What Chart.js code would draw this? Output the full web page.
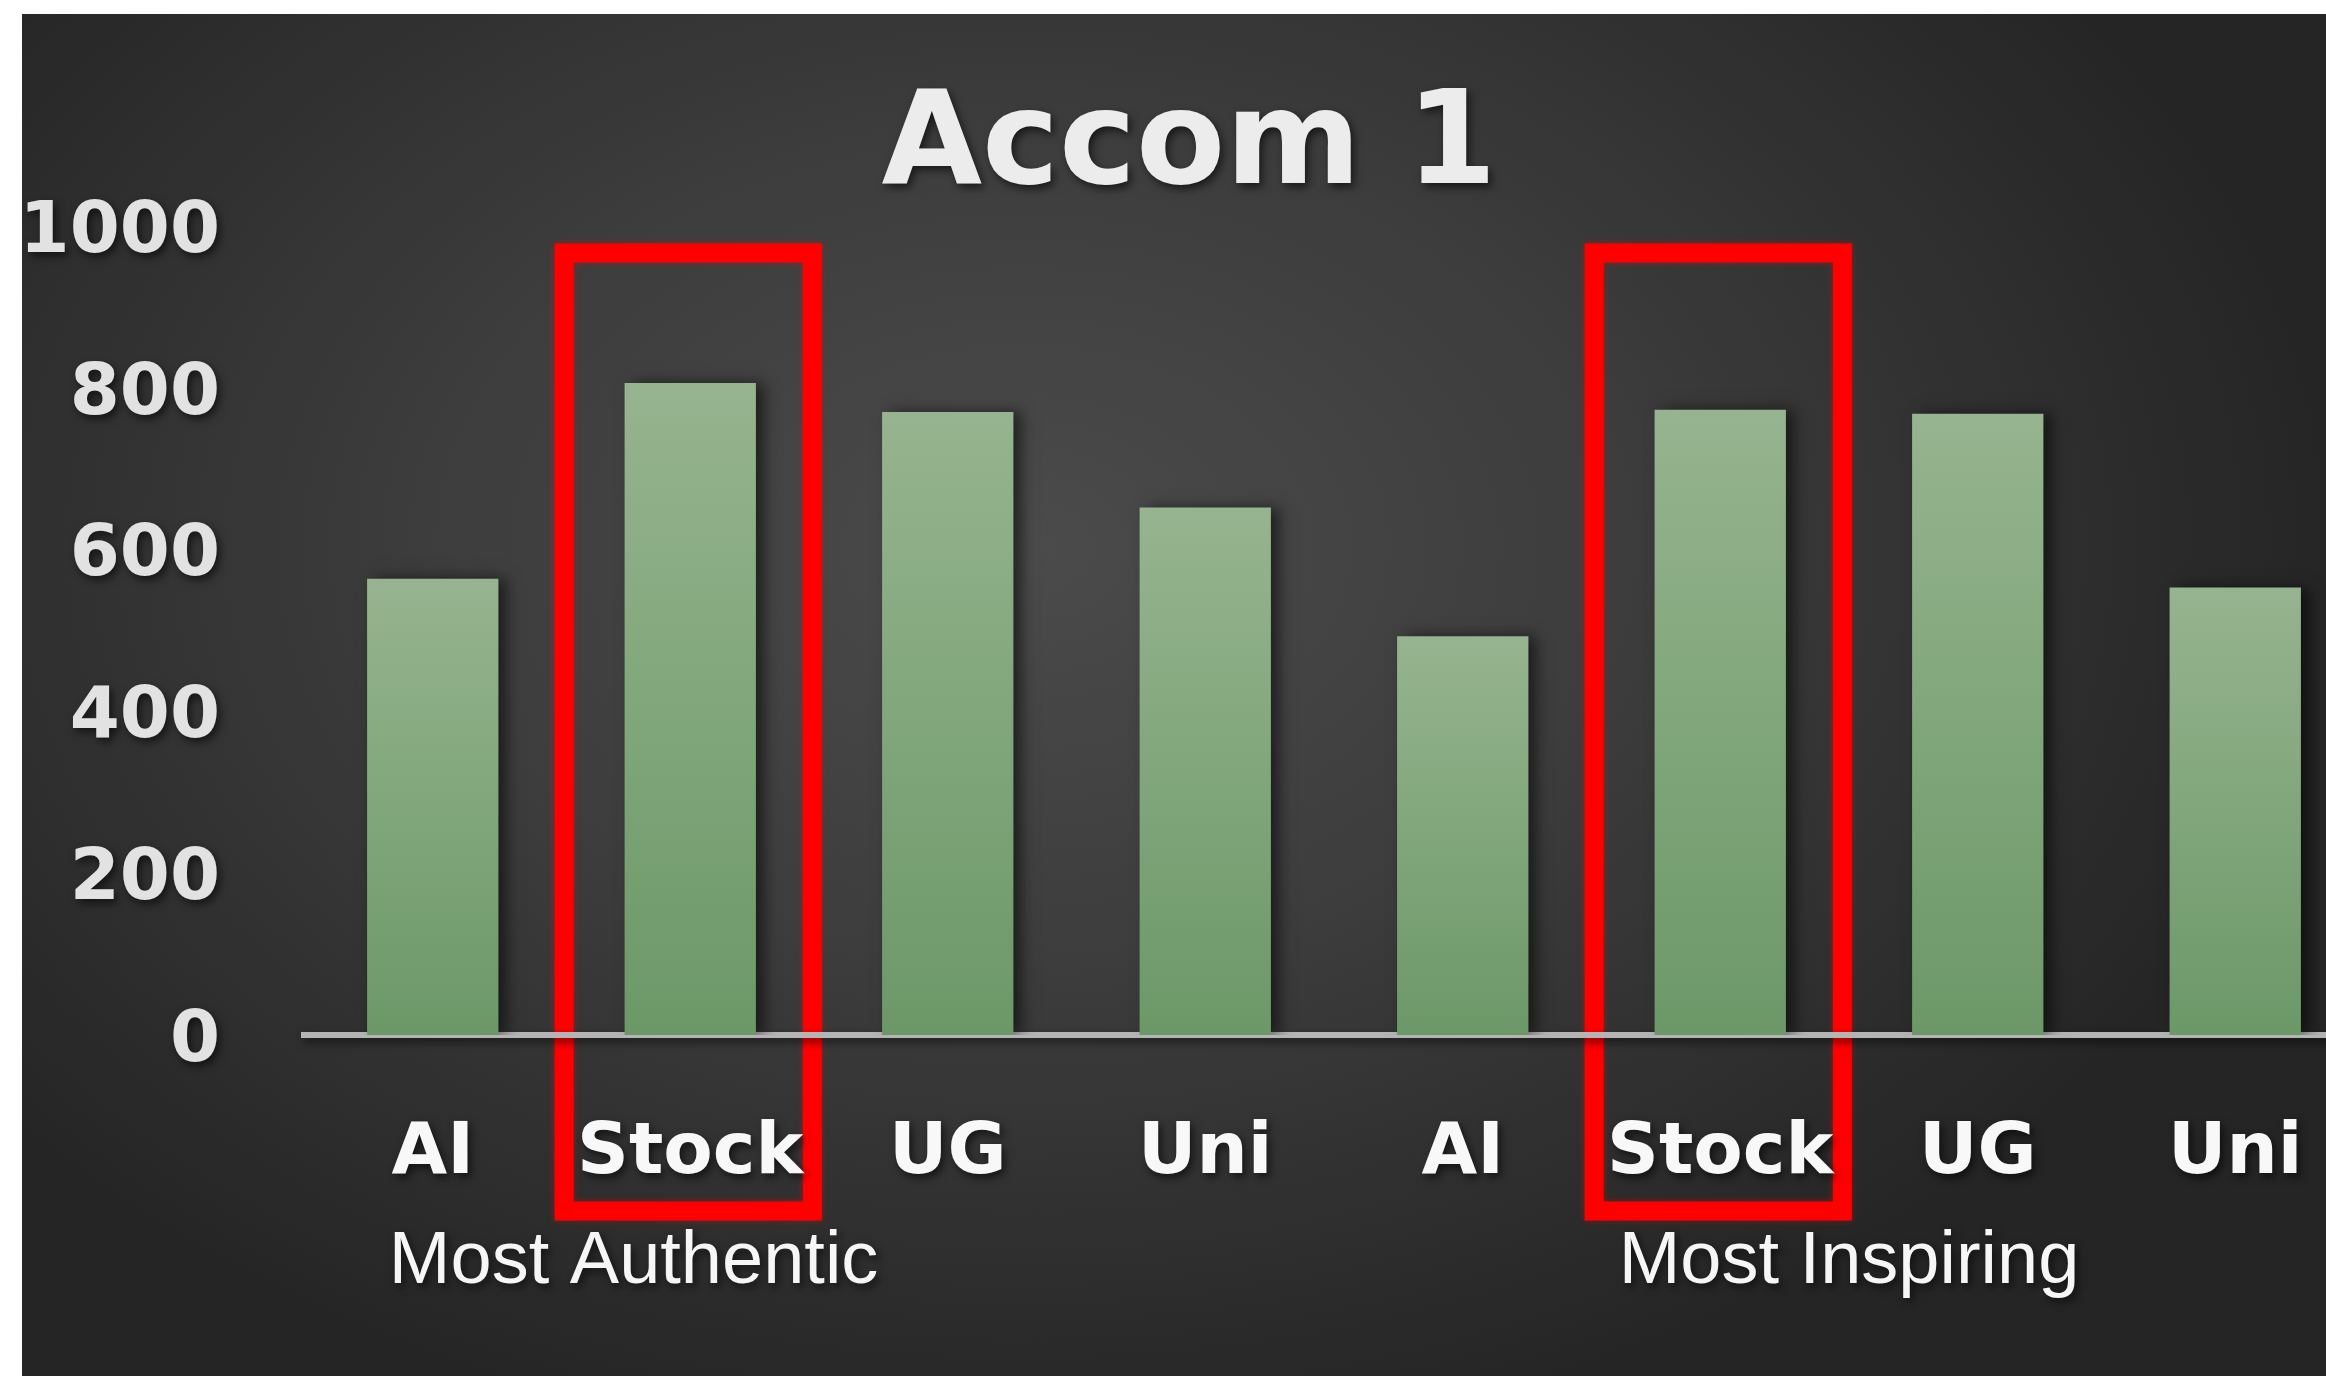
<!DOCTYPE html>
<html>
<head>
<meta charset="utf-8">
<title>Accom 1</title>
<script src="https://cdn.jsdelivr.net/npm/chart.js@4.4.1/dist/chart.umd.min.js"></script>
<style>
  html, body { margin: 0; padding: 0; background: #fff; overflow: hidden; width: 2326px; height: 1376px; }
  #bg {
    position: fixed; left: 22px; top: 14px; right: -80px; bottom: -40px;
    background: radial-gradient(ellipse 55% 65% at 42% 38%, #4b4b4b 0%, #3d3d3d 45%, #252525 100%);
  }
  #accomChart { position: absolute; left: 14px; top: 12px; }
</style>
</head>
<body>
<div id="bg"></div>
<canvas id="accomChart" width="2400" height="1364"></canvas>
<script>
/* Accom 1 */

const categories = ['AI', 'Stock', 'UG', 'Uni', 'AI', 'Stock', 'UG', 'Uni'];
const values = [564, 806, 770, 652, 493, 773, 768, 553];
const yTicks = [0, 200, 400, 600, 800, 1000];
const groupLabels = ['Most Authentic', 'Most Inspiring'];
const highlighted = [1, 5];   // the two "Stock" bars get a red box


// red boxes, soft shadows and the group labels under the axis
const decorPlugin = {
  id: 'decor',
  beforeDraw(chart) {
    const ctx = chart.ctx;
    const x = chart.scales.x;
    const area = chart.chartArea;
    const catW = (area.right - area.left) / categories.length;

    ctx.save();
    ctx.save();
    ctx.strokeStyle = '#ff0000';
    ctx.lineWidth = 19;
    ctx.shadowColor = 'rgba(255, 0, 0, 0.45)';
    ctx.shadowBlur = 6;
    highlighted.forEach(i => {
      const cx = x.getPixelForValue(i) - 2;
      const half = catW * 0.482;
      ctx.strokeRect(cx - half, area.top + 27, half * 2, area.bottom + 176 - (area.top + 27));
    });
    ctx.restore();

    // text and axis line get a dark drop shadow
    ctx.shadowColor = 'rgba(0, 0, 0, 0.6)';
    ctx.shadowBlur = 8;
    ctx.shadowOffsetX = 3;
    ctx.shadowOffsetY = 4;
  },
  beforeDatasetsDraw(chart) {
    const ctx = chart.ctx;
    ctx.save();
    ctx.shadowColor = 'rgba(0, 0, 0, 0.55)';
    ctx.shadowBlur = 14;
    ctx.shadowOffsetX = 8;
    ctx.shadowOffsetY = 0;
  },
  afterDatasetsDraw(chart) {
    chart.ctx.restore();
  },
  afterDraw(chart) {
    const ctx = chart.ctx;
    const area = chart.chartArea;
    const catW = (area.right - area.left) / categories.length;
    const centers = [0.78, 5.5];   // in category units

    ctx.font = '74px "Liberation Sans", Arial, sans-serif';
    ctx.fillStyle = '#f6f6f6';
    ctx.textAlign = 'center';
    ctx.textBaseline = 'middle';
    groupLabels.forEach((label, i) => {
      ctx.fillText(label, area.left + (centers[i] + 0.5) * catW, area.bottom + 228);
    });
    ctx.restore();
  }
};


function barColor(context) {
  const chart = context.chart;
  const area = chart.chartArea;
  if (!area || context.raw === undefined) return '#85a880';
  const yTop = chart.scales.y.getPixelForValue(context.raw);
  const g = chart.ctx.createLinearGradient(0, yTop, 0, area.bottom);
  g.addColorStop(0, '#96b48f');
  g.addColorStop(1, '#6c9868');
  return g;
}


const data = {
  labels: categories,
  datasets: [{
    label: 'Accom 1',
    data: values,
    backgroundColor: barColor,
    borderWidth: 0,
    categoryPercentage: 1.0,
    barPercentage: 0.51,
  }]
};

const config = {
  type: 'bar',
  data: data,
  options: {
    responsive: false,
    animation: false,
    layout: {
      padding: { top: 0, right: 50, bottom: 0, left: 0 }
    },
    plugins: {
      legend: { display: false },
      tooltip: { enabled: false },
      title: {
        display: true,
        text: 'Accom 1',
        color: '#ececec',
        font: { family: '"DejaVu Sans", sans-serif', weight: 'bold', size: 130, lineHeight: 1.1 },
        padding: { top: 66, bottom: 5 }
      }
    },
    scales: {
      x: {
        grid: { display: false, drawTicks: false },
        border: { display: true, color: '#b4b4b4', width: 6 },
        ticks: {
          color: '#f8f8f8',
          padding: 76,
          maxRotation: 0,
          autoSkip: false,
          font: { family: '"DejaVu Sans", sans-serif', weight: 'bold', size: 72, lineHeight: 1.2 }
        },
        afterFit: (scale) => { scale.height = 341; }
      },
      y: {
        min: 0,
        max: 1000,
        grid: { display: false, drawTicks: false },
        border: { display: false },
        afterBuildTicks: (scale) => { scale.ticks = yTicks.map(v => ({ value: v })); },
        ticks: {
          color: '#e2e2e2',
          padding: 84,
          labelOffset: 7,
          callback: (value) => String(value),
          font: { family: '"DejaVu Sans", sans-serif', weight: 'bold', size: 72, lineHeight: 1.2 }
        },
        afterFit: (scale) => { scale.width = 290; }
      }
    }
  },
  plugins: [decorPlugin]
};

const ctx = document.getElementById('accomChart').getContext('2d');
new Chart(ctx, config);
</script>
</body>
</html>
